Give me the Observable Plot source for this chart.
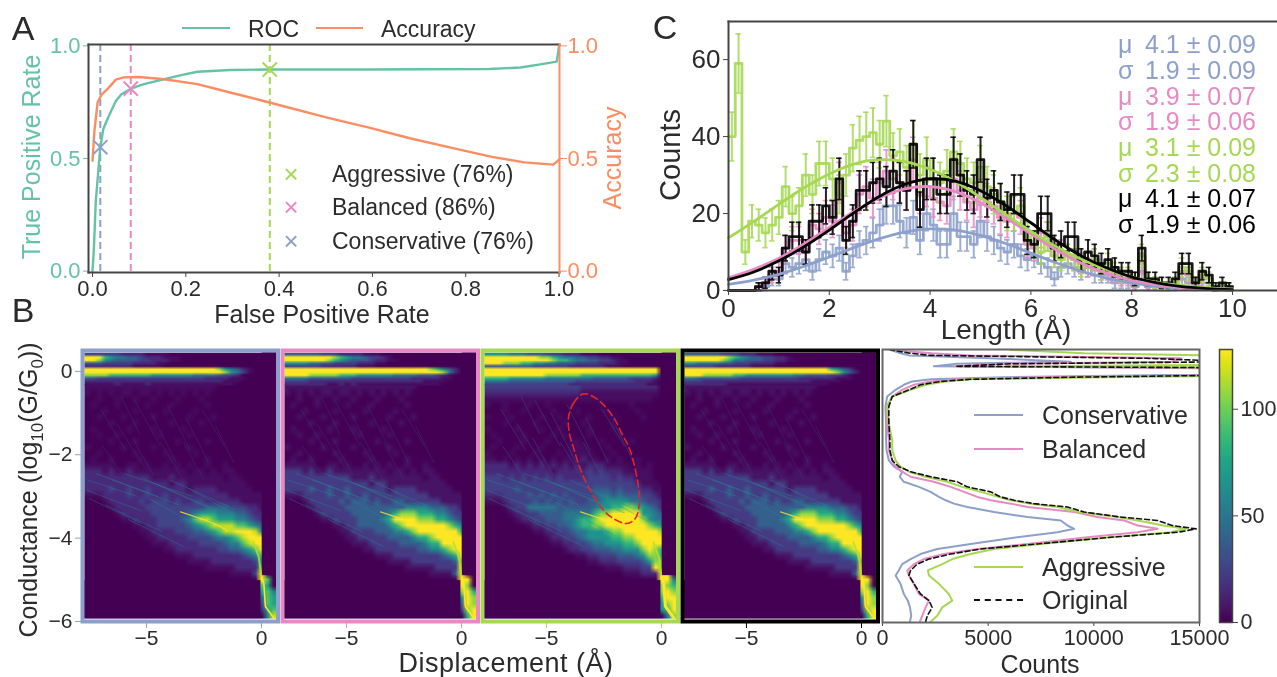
<!DOCTYPE html>
<html><head><meta charset="utf-8">
<script src="https://cdn.jsdelivr.net/npm/d3@7"></script>
<script src="https://cdn.jsdelivr.net/npm/@observablehq/plot@0.6"></script>
<style>
html,body{margin:0;padding:0;background:#fff}
#page{position:relative;width:1277px;height:677px;overflow:hidden;font-family:"Liberation Sans",Arial,sans-serif;color:#2b2b2b;filter:blur(.4px)}
.t{position:absolute;white-space:pre;line-height:1}
sub{font-size:68%;line-height:0}
</style></head><body><div id="page"></div>
<script>
const BLUE="#8da0cb",PINK="#e78ac3",GREEN="#a6d854",BLACK="#000000",TEAL="#66c2a5",ORANGE="#fc8d62",INK="#2b2b2b",SPINE="#444444",VIRIDIS0="#440154";
// Panel A
const rocFpr=[0,.003,.007,.0167,.023,.033,.05,.062,.082,.11,.154,.19,.225,.295,.375,.59,.85,.917,.96,.995,1];
const rocTpr=[0,.1,.31,.55,.63,.68,.755,.785,.81,.83,.852,.87,.885,.893,.895,.895,.897,.904,.918,.93,1];
const accFpr=[0,.004,.011,.02,.033,.05,.067,.10,.154,.225,.295,.373,.505,.593,.68,.768,.856,.926,.988,1];
const accVal=[.49,.62,.75,.785,.81,.85,.86,.862,.852,.83,.793,.752,.68,.637,.59,.548,.507,.483,.473,.495];
const thresholdFpr=[.38,.082,.0167];
const thresholdTpr=[.895,.81,.55];
const thresholdColor=[GREEN,PINK,BLUE];
const thresholdName=["Aggressive (76%)","Balanced (86%)","Conservative (76%)"];
// Panel C histograms: 75 bins over 0-10
const lenBlue=[0,0,0,0,0,1,3,3,7,6,7,8,5,8,10,9,11,5,9,12,13,15,17,22,22,18,15,19,13,20,17,12,12,20,14,14,12,18,14,13,11,10,12,9,8,9,7,6,3,6,7,6,5,6,4,4,4,2,2,2,1,5,1,1,1,1,1,3,2,1,2,2,0,1,0];
const lenPink=[0,0,0,0,1,2,4,5,11,13,13,10,17,16,19,18,28,15,17,25,27,24,28,31,29,28,26,34,25,27,24,23,22,29,26,23,21,24,23,22,19,18,20,19,12,11,15,14,9,10,9,8,7,6,8,5,5,4,3,3,2,7,2,2,1,1,2,5,4,2,3,3,0,1,1];
const lenGreen=[40,59,10,18,17,15,17,19,27,20,22,30,25,33,33,29,25,30,37,39,40,41,38,44,35,36,32,38,30,34,29,28,31,36,33,29,28,32,27,25,23,20,20,22,14,12,10,14,9,8,9,8,6,7,8,5,7,5,4,4,3,9,3,2,2,1,2,6,5,2,4,3,0,1,1];
const lenBlack=[0,0,0,0,1,2,5,4,11,14,14,10,18,18,22,19,29,13,18,26,26,28,29,27,31,28,26,38,21,29,29,25,25,34,30,26,25,34,24,26,23,21,25,25,13,12,20,20,11,12,14,14,8,10,9,7,8,6,5,5,3,11,3,3,2,2,3,7,7,2,5,4,1,2,1];
const fitX=[0,.5,1,1.5,2,2.5,3,3.5,4,4.5,5,5.5,6,6.5,7,7.5,8,8.5,9,9.5,10];
const fitBlue=[1.6,2.7,4.2,6.3,8.7,11.2,13.5,15.2,16,15.7,14.3,12.2,9.7,7.2,5,3.2,2,1.1,.6,.3,.1];
const fitPink=[3.3,5.5,8.4,12.1,16.4,20.6,24.1,26.4,27,25.7,22.8,18.9,14.7,10.6,7.1,4.5,2.6,1.5,.7,.3,.1];
const fitGreen=[13.7,17.9,22.4,26.7,30.3,32.9,34,33.5,31.5,28.3,24.2,19.7,15.4,11.4,8.1,5.5,3.5,2.1,1.3,.7,.4];
const fitBlack=[2.8,4.8,7.7,11.4,15.7,20.3,24.5,27.6,29,28.4,25.9,22.1,17.6,13,9,5.9,3.5,2,1,.5,.2];
const fitLabels=[["μ","4.1 ± 0.09",BLUE],["σ","1.9 ± 0.09",BLUE],["μ","3.9 ± 0.07",PINK],["σ","1.9 ± 0.06",PINK],["μ","3.1 ± 0.09",GREEN],["σ","2.3 ± 0.08",GREEN],["μ","4.1 ± 0.07",BLACK],["σ","1.9 ± 0.06",BLACK]];
// Panel B conductance profile
const profLevel=[-5.98,-5.84,-5.64,-5.48,-5.32,-5.08,-4.88,-4.76,-4.61,-4.49,-4.37,-4.25,-4.13,-3.97,-3.85,-3.77,-3.69,-3.57,-3.49,-3.37,-3.25,-3.17,-3.09,-3.01,-2.89,-2.77,-2.65,-2.53,-2.41,-2.29,-2.14,-1.9,-1.66,-1.26,-.86,-.62,-.46,-.34,-.26,-.21,-.16,-.11,0,.06,.1,.16,.21,.29,.36,.41,.49];
const profBlue=[1300,1360,1300,1200,1010,850,620,770,930,1330,1800,2590,4170,6380,8280,9070,8750,8440,6860,5280,4010,3380,2990,2670,2280,1720,1010,820,930,540,300,190,170,170,140,220,620,1010,1410,2280,5750,13650,30000,13650,2430,3540,8910,5120,1250,850,380];
const profPink=[1770,1880,2040,2200,1720,1490,1250,1170,1490,1960,2910,4490,6860,9700,12070,13020,12070,11440,10170,9070,6860,6070,5120,4490,3860,3220,2430,1330,930,620,460,300,300,220,190,460,930,1490,2280,3540,7330,16800,40000,16800,3460,5750,13650,14130,4170,2350,380];
const profGreen=[2280,2590,2830,3300,3140,2670,2200,2150,2830,3300,4170,5280,7490,10800,13650,14360,13300,12070,11100,9300,8280,7010,6070,5510,4650,3780,3070,2040,1250,850,620,460,460,300,220,460,1330,2040,2990,4170,10500,21550,40000,21550,5910,23100,16800,21550,15230,9540,6070];
const profBlack=[2040,2120,2350,2200,1800,1490,1250,1330,1640,2200,3220,4650,7330,10800,14000,14840,13700,13000,11300,9540,8750,7170,6230,5590,5120,4010,3540,2280,1330,770,460,350,350,300,300,460,1250,1800,2750,4170,8900,16800,40000,18400,3460,6070,16800,12500,2280,1330,380];
// Heatmaps: density codes 0-9
const codeValue=[0,4,14,24,36,50,66,84,105,128];
const topBlue=["33333322221111000000000000000000","99976554432221110000000000000000","99865444433222110000000000000000","44433333222211000000000000000000","22222222111110000000000000000000","99999999999999999999998654210000","99999999999999999999999865310000","88887777777666666655554332000000","44333333333333333333222211100000","22222222222222222222222111000000","11111211112111111111111110000000"];
const topPink=["44444433322221110000000000000000","99999999876554332100000000000000","99999998765444322110000000000000","66665544333322211000000000000000","33333322222211100000000000000000","99999999999999999999999987542000","99999999999999999999999999852000","99998888877766666655554443210000","55554444444333333333322222110000","33332222222222222222222111100000","22222221121211111111111111000000"];
const topGreen=["66665554443332221110000000000000","99999999988765544332211000000000","99999999999877655443321100000000","99988877665544433332221100000000","44444444333333222222111000000000","99999999999999999999999999999000","99999999999999999999999999999000","99999999998888887777777777776000","77776666665555555544444433332000","55554444444444433333333332221000","33333333333333222222222222211000"];
const topBlack=["44444433322211100000000000000000","99999998765443322100000000000000","99999987554443322110000000000000","66555544333222211000000000000000","33333222222111100000000000000000","99999999999999999999999976431000","99999999999999999999999998642000","99988888776666666655444433210000","55444444433333333332222221110000","33322222222222222222211111000000","22222221111111111111111100000000"];
const mainBase=["11111111111111111111110000000000","10101011011010101010100000000000","00100100100100010001000000000000","01000100001000100000100000000000","00010000100001000010000000000000","00100010000100000100010000000000","00001000100000100001000000000000","01000001000100001000000000000000","00100100000010000100000000000000","00001000100000010000100000000000","10000010000100000100000000000000","00100000100001000010000000000000","01001000010000100000100000000000",
"11111001101001010100100100000000","22212112111111111011010110000000","22222222222111211111111011000000","22222222222222122111111111100000","22223223223222222122221111110000","11122223223223222222222211111100","00012222232333232233222222111110","00001222223333333333444433322110","00000122222333333456665554432210","00000011222233334578876665543220","00000000112233333456788887765430","00000000011222233344567889998540","00000000001122222333345567899940","00000000000111222223333455789950","00000000000001122222223344567960","00000000000000011122222222345750","00000000000000000111122222223650","00000000000000000000111112222760","00000000000000000000000011113900",
"00000000000000000000000000000970","00000000000000000000000000000760","00000000000000000000000000000675","00000000000000000000000000000476","00000000000000000000000000000376","00000000000000000000000000000267","00000000000000000000000000000058"];
const mainGreen=["33333333333333332222222222222000","22222222222222221111111111111000","11111111111111111111111111110000","10010001001000100001000010000000","00010010000100010000100001000000","10001000010010000100010000100000","00010000100001001000010000000000","10000100010010000100010000000000","01000010000101000100001000000000","00100010001000110001000010000000","01000100010000111000100000000000","10001000100010111100010000000000","11010101010101112110101001000000",
"22221212121212121222111101010000","22222222222122222323222111110000","33323232323232222333323221110000","33333333333333333333333332111000","33333433333333333344434333221100","22233334343434333345545444332110","11123333434343433445666655433210","00012335555544444456677887654220","00001223344445555578899999665430","00000122334445567789999999865540","00000001223344567788999999987650","00000000112233455666788999999860","00000000001223345666677889999990","00000000000112233455666778999990","00000000000001223344455666898770","00000000000000011223334445688760","00000000000000000112223333468860","00000000000000000000111222339880","00000000000000000000000111222990",
"00000000000000000000000000000995","00000000000000000000000000000887","00000000000000000000000000000898","00000000000000000000000000000799","00000000000000000000000000000689","00000000000000000000000000000679","00000000000000000000000000000058"];
const ridgeX=[-3.52,-2.65,-2.07,-1.49];
const ridgeY=[-3.37,-3.53,-3.65,-3.81];
const throatX=[0,.1,.17,.54];
const throatY=[-4.94,-5.08,-5.64,-5.92];
const neckX=[-.35,-.12,0];
const neckY=[-4.1,-4.45,-4.94];
const streakStart=[[-7,-.9],[-6.3,-1.25],[-5.5,-.7],[-4.8,-1],[-4.1,-.8],[-3.3,-1.1],[-2.6,-.9],[-6.9,-1.8],[-5.6,-1.6],[-4.4,-1.7],[-3.4,-1.7],[-6.1,-.6],[-2,-1.3]];
const streakEnd=[[-5.9,-1.9],[-5.1,-2.3],[-4.4,-1.8],[-3.7,-2.2],[-3.1,-1.9],[-2.3,-2.2],[-1.6,-1.8],[-5.9,-2.6],[-4.7,-2.5],[-3.4,-2.6],[-2.5,-2.6],[-5.3,-1.5],[-1.2,-2.2]];
const cloudStart=[[-7.6,-2.6],[-7.6,-2.85],[-7.5,-3.05],[-7.2,-2.45],[-6.5,-2.6],[-6,-2.45],[-6.8,-3.2],[-5.2,-2.55],[-4.6,-2.7],[-4.9,-3.05],[-4,-2.6],[-3.2,-2.8],[-5.8,-3.55]];
const cloudEnd=[[-5.4,-3],[-5.2,-3.35],[-5.2,-3.65],[-4.5,-3],[-3.6,-3.2],[-3,-3],[-4.3,-3.85],[-2.2,-3.3],[-1.6,-3.4],[-2,-3.95],[-1.2,-3.3],[-.6,-3.6],[-3.4,-4.2]];
const ellipseX=[-3.39,-3.8,-4.04,-4,-3.83,-3.54,-3.1,-2.59,-2.09,-1.51,-1.14,-.96,-1,-1.36,-1.72,-2.09,-2.81];
const ellipseY=[-.54,-.74,-1.1,-1.5,-1.82,-2.33,-2.85,-3.29,-3.53,-3.65,-3.53,-3.17,-2.77,-1.9,-1.5,-1.1,-.66];
const panels=[
 {color:BLUE,top:topBlue,main:mainBase,gain:1.1,left:82},
 {color:PINK,top:topPink,main:mainBase,gain:1.6,left:282},
 {color:GREEN,top:topGreen,main:mainGreen,gain:1,left:482},
 {color:BLACK,top:topBlack,main:mainBase,gain:1.6,left:682}];

const page=document.getElementById("page");
function place(svg,left,top){svg.style.position="absolute";svg.style.left=left+"px";svg.style.top=top+"px";svg.style.maxWidth="none";svg.style.background="transparent";svg.style.overflow="visible";page.appendChild(svg);}
function txt(html,x,y,{size=24,color=INK,anchor="middle",rotate=0,spacing=0}={}){
 const d=document.createElement("div");d.className="t";d.innerHTML=html;d.style.left=x+"px";d.style.top=y+"px";d.style.fontSize=size+"px";d.style.color=color;d.style.letterSpacing=spacing+"px";
 const tx=anchor==="middle"?"-50%":anchor==="end"?"-100%":"0";
 d.style.transform=`translate(${tx},-50%) rotate(${rotate}deg)`;page.appendChild(d);}
function swatch(x1,x2,y,color,dashed){const d=document.createElement("div");d.style.cssText=`position:absolute;left:${x1}px;width:${x2-x1}px;top:${y-1}px;border-top:2px ${dashed?"dashed":"solid"} ${color}`;page.appendChild(d);}
const FONT={fontFamily:"Liberation Sans, Arial, sans-serif"};

// ---------- Panel A
{
 const roc=rocFpr.map((x,i)=>({x,y:rocTpr[i]}));
 const acc=accFpr.map((x,i)=>({x,y:accVal[i]}));
 const pts=thresholdFpr.map((x,i)=>({x,y:thresholdTpr[i],c:thresholdColor[i]}));
 const svg=Plot.plot({width:471+80,height:228+50,marginLeft:40,marginRight:40,marginTop:10,marginBottom:40,style:FONT,
  x:{domain:[-.0086,1.001],axis:null},y:{domain:[-.006,1.006],axis:null},
  marks:[
   Plot.axisX([0,.2,.4,.6,.8,1],{tickFormat:".1f",fontSize:22,tickSize:5,tickPadding:3,label:null,stroke:SPINE,fill:INK}),
   Plot.axisY([0,.5,1],{anchor:"left",tickFormat:".1f",fontSize:22,tickSize:5,tickPadding:3,label:null,color:TEAL}),
   Plot.axisY([0,.5,1],{anchor:"right",tickFormat:".1f",fontSize:22,tickSize:7,tickPadding:1,label:null,color:ORANGE}),
   Plot.ruleX(pts,{x:"x",stroke:"c",strokeWidth:2,strokeDasharray:"7,4"}),
   Plot.line(roc,{x:"x",y:"y",stroke:TEAL,strokeWidth:2.4}),
   Plot.line(acc,{x:"x",y:"y",stroke:ORANGE,strokeWidth:2.4}),
   Plot.dot(pts,{x:"x",y:"y",symbol:"times",r:6.5,stroke:"c",strokeWidth:2}),
   Plot.frame({anchor:"left",stroke:SPINE,strokeWidth:2}),
   Plot.frame({anchor:"top",stroke:SPINE,strokeWidth:2}),
   Plot.frame({anchor:"bottom",stroke:SPINE,strokeWidth:2}),
   Plot.frame({anchor:"right",stroke:ORANGE,strokeWidth:2})
  ]});
 place(svg,88-40,44-10);
 txt("A",23,28,{size:34});
 txt("False Positive Rate",322,314,{size:25});
 txt("True Positive Rate",31,157,{size:25,color:TEAL,rotate:-90});
 txt("Accuracy",612,158,{size:25,color:ORANGE,rotate:-90});
 swatch(182,230,28,TEAL);txt("ROC",248,29,{size:23,anchor:"start"});
 swatch(316,363,28,ORANGE);txt("Accuracy",381,29,{size:23,anchor:"start"});
 [174,207,241].forEach((y,i)=>{txt("×",291,y,{size:26,color:thresholdColor[i]});txt(thresholdName[i],332,y,{size:23,anchor:"start"});});
 txt("B",23,310,{size:34});
}

// ---------- Panel C
{
 const w=10/75;
 const series=[[lenBlue,BLUE,fitBlue],[lenPink,PINK,fitPink],[lenGreen,GREEN,fitGreen],[lenBlack,BLACK,fitBlack]];
 const marks=[];
 for(const [counts,c] of series){
  const bars=counts.map((n,i)=>({x:(i+.5)*w,n})).filter(d=>d.n>0);
  const steps=counts.map((n,i)=>({x:i*w,y:n}));steps.push({x:10,y:counts[counts.length-1]});
  marks.push(
   Plot.ruleX(bars,{x:"x",y1:d=>Math.max(0,d.n-Math.sqrt(d.n)),y2:d=>d.n+Math.sqrt(d.n),stroke:c,strokeWidth:2,strokeOpacity:.85}),
   Plot.ruleY(bars,{x1:d=>d.x-.055,x2:d=>d.x+.055,y:d=>d.n+Math.sqrt(d.n),stroke:c,strokeWidth:1.6,strokeOpacity:.85}),
   Plot.ruleY(bars,{x1:d=>d.x-.055,x2:d=>d.x+.055,y:d=>Math.max(0,d.n-Math.sqrt(d.n)),stroke:c,strokeWidth:1.6,strokeOpacity:.85}),
   Plot.line(steps,{x:"x",y:"y",curve:"step-after",stroke:c,strokeWidth:2.8,strokeOpacity:.9})
  );
 }
 for(const [,c,fit] of series) marks.push(Plot.line(fitX.map((x,i)=>({x,y:fit[i]})),{x:"x",y:"y",curve:"catmull-rom",stroke:c,strokeWidth:2.8}));
 const svg=Plot.plot({width:549+60,height:269+45,marginLeft:60,marginRight:0,marginTop:0,marginBottom:45,style:FONT,
  x:{domain:[0,10.893],axis:null},y:{domain:[0,69.9],axis:null},
  marks:[
   ...marks,
   Plot.axisX([0,2,4,6,8,10],{fontSize:26,tickSize:5,tickPadding:3,label:null,stroke:SPINE,fill:INK}),
   Plot.axisY([0,20,40,60],{fontSize:26,tickSize:5,tickPadding:3,label:null,stroke:SPINE,fill:INK}),
   Plot.frame({anchor:"left",stroke:SPINE,strokeWidth:2}),
   Plot.frame({anchor:"top",stroke:SPINE,strokeWidth:2}),
   Plot.frame({anchor:"bottom",stroke:SPINE,strokeWidth:2})
  ]});
 place(svg,728-60,21);
 txt("C",665,27,{size:34});
 txt("Counts",670,155,{size:29,rotate:-90});
 txt("Length (Å)",1006,330,{size:28});
 const rowY=[44,70,95.5,121,147,172.5,198,224];
 fitLabels.forEach(([s,v,c],i)=>{txt(s,1118,rowY[i],{size:25,color:c,anchor:"start"});txt(v,1145,rowY[i],{size:25,color:c,anchor:"start"});});
}

// ---------- Panel B heatmaps
const decode=(rows,gain)=>rows.flatMap(r=>[...r].map(ch=>codeValue[+ch]*gain));
const colorScale={type:"linear",scheme:"viridis",domain:[0,128]};
panels.forEach((p,idx)=>{
 const cols=p.main[0].length;
 const xL=-7.70,xR=.652;
 const ridge=ridgeX.map((x,i)=>({x,y:ridgeY[i]}));
 const throat=throatX.map((x,i)=>({x,y:throatY[i]}));
 const neck=neckX.map((x,i)=>({x,y:neckY[i]}));
 const streaks=streakStart.map((s,i)=>({x1:s[0],y1:s[1],x2:streakEnd[i][0],y2:streakEnd[i][1]}));
 const cloud=cloudStart.map((s,i)=>({x1:s[0],y1:s[1],x2:cloudEnd[i][0],y2:cloudEnd[i][1]}));
 const extra=idx===2?[Plot.line(ellipseX.map((x,i)=>({x,y:ellipseY[i]})),{x:"x",y:"y",curve:"catmull-rom-closed",stroke:"#e0262c",strokeWidth:1.6,strokeDasharray:"7,4"})]:[];
 const svg=Plot.plot({width:195.5+16,height:271+40,marginLeft:8,marginRight:8,marginTop:8,marginBottom:32,style:FONT,
  x:{domain:[-7.78,.717],axis:null},y:{domain:[-6,.5],axis:null},color:colorScale,
  marks:[
   Plot.raster(decode(p.main,p.gain),{width:cols,height:p.main.length,x1:xL,x2:xR,y1:-.30,y2:-5.93}),
   Plot.raster(decode(p.top,1),{width:cols,height:p.top.length,x1:xL,x2:xR,y1:.447,y2:-.342}),
   Plot.rect([0],{x1:.03,x2:xR,y1:.447,y2:-4.9,fill:VIRIDIS0}),
   Plot.rect([0],{x1:xL,x2:-.03,y1:-5.02,y2:-5.93,fill:VIRIDIS0}),
   Plot.link(streaks,{x1:"x1",y1:"y1",x2:"x2",y2:"y2",stroke:"#3b528b",strokeWidth:.8,strokeOpacity:idx===2?.6:.35}),
   Plot.link(cloud,{x1:"x1",y1:"y1",x2:"x2",y2:"y2",stroke:"#21918c",strokeWidth:.9,strokeOpacity:.4}),
   Plot.line(ridge,{x:"x",y:"y",stroke:"#fde725",strokeWidth:1.2,strokeOpacity:.8}),
   Plot.line(neck,{x:"x",y:"y",stroke:"#b5de2b",strokeWidth:2,strokeOpacity:.8}),
   Plot.line(throat,{x:"x",y:"y",stroke:"#fde725",strokeWidth:idx===2?3:1.6}),
   ...extra,
   Plot.axisX([-5,0],{fontSize:21,tickSize:7,tickPadding:2,label:null,stroke:p.color,fill:INK}),
   ...(idx===0?[Plot.axisY([-6,-4,-2,0],{fontSize:21,tickSize:7,tickPadding:3,label:null,stroke:p.color,fill:INK})]:[]),
   Plot.frame({stroke:p.color,strokeWidth:4})
  ]});
 place(svg,p.left-8,350-8);
});
txt("Conductance (log<sub>10</sub>(G/G<sub>0</sub>))",28,490,{size:25,rotate:-90});
txt("Displacement (Å)",506,663,{size:27,spacing:.5});

// ---------- Panel B profile
{
 const layers=[[profBlue,BLUE,null],[profPink,PINK,null],[profGreen,GREEN,null],[profBlack,"#111",'5,3']];
 const svg=Plot.plot({width:317+60,height:273+50,marginLeft:30,marginRight:30,marginTop:0,marginBottom:50,style:FONT,
  x:{domain:[0,15000],axis:null},y:{domain:[-6,.5],axis:null},
  marks:[
   ...layers.map(([v,c,dash])=>Plot.line(v.map((n,i)=>({n,y:profLevel[i]})),{x:"n",y:"y",stroke:c,strokeWidth:dash?1.6:2,strokeDasharray:dash||undefined,clip:true})),
   Plot.axisX([0,5000,10000,15000],{fontSize:21.6,tickSize:4,tickPadding:3,label:null,stroke:SPINE,fill:INK,tickFormat:d=>String(d)}),
   Plot.frame({stroke:"#666",strokeWidth:2})
  ]});
 place(svg,882-30,349);
 txt("Counts",1040,664,{size:25});
 [["Conservative",415,BLUE,false],["Balanced",449,PINK,false],["Aggressive",567,GREEN,false],["Original",600,"#111",true]].forEach(([s,y,c,d])=>{swatch(974,1023,y,c,d);txt(s,1042,y,{size:25,anchor:"start"});});
}

// ---------- Colorbar
{
 const steps=d3.range(0,128);
 const svg=Plot.plot({width:13+50,height:273+20,marginLeft:0,marginRight:50,marginTop:0,marginBottom:20,style:FONT,
  x:{domain:[0,1],axis:null},y:{domain:[0,128],axis:null},color:colorScale,
  marks:[
   Plot.raster(steps,{width:1,height:steps.length,x1:0,x2:1,y1:0,y2:128}),
   Plot.axisY([0,50,100],{anchor:"right",fontSize:21.6,tickSize:5,tickPadding:3,label:null,stroke:SPINE,fill:INK}),
   Plot.frame({stroke:SPINE,strokeWidth:1.5})
  ]});
 place(svg,1219,349);
}
</script></body></html>
